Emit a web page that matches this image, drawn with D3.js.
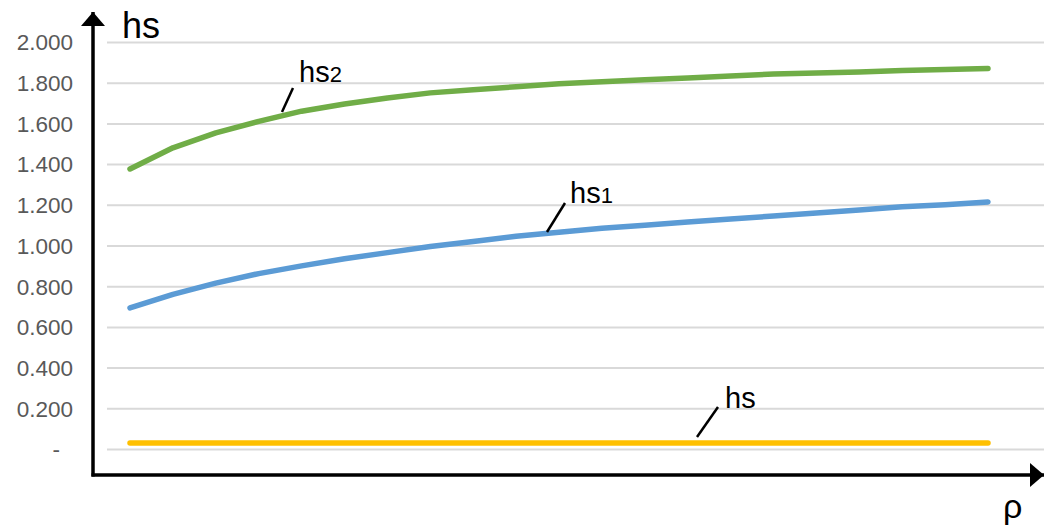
<!DOCTYPE html>
<html>
<head>
<meta charset="utf-8">
<script src="https://cdn.jsdelivr.net/npm/d3@7"></script>
<style>
  html, body { margin: 0; padding: 0; background: #fff; }
  svg { display: block; font-family: "Liberation Sans", "DejaVu Sans", sans-serif; }
</style>
</head>
<body>
<svg id="chart" width="1044" height="527"></svg>
<script>
// data
const yTicks = [0, 0.2, 0.4, 0.6, 0.8, 1.0, 1.2, 1.4, 1.6, 1.8, 2.0];
const hs2Values = [1.376, 1.48, 1.553, 1.61, 1.66, 1.695, 1.725, 1.75, 1.765, 1.78, 1.795,
  1.805, 1.815, 1.823, 1.833, 1.843, 1.848, 1.853, 1.86, 1.865, 1.87];
const hs1Values = [0.693, 0.76, 0.815, 0.862, 0.9, 0.935, 0.965, 0.995, 1.02, 1.045, 1.065,
  1.085, 1.10, 1.115, 1.13, 1.145, 1.16, 1.175, 1.19, 1.2, 1.214];
const hsValues = [0.03, 0.03, 0.03, 0.03, 0.03, 0.03, 0.03, 0.03, 0.03, 0.03, 0.03,
  0.03, 0.03, 0.03, 0.03, 0.03, 0.03, 0.03, 0.03, 0.03, 0.03];
const seriesNames = ["hs", "hs1", "hs2"];
const seriesColors = ["#ffc000", "#5b9bd5", "#70ad47"];

const svg = d3.select("#chart");

// スケール
const x = d3.scaleLinear().domain([0, hs2Values.length - 1]).range([130, 988]);
const y = d3.scaleLinear().domain([0, 2]).range([449, 42]);

// 罫線と目盛りラベル
const yAxis = svg.append("g")
  .attr("class", "y-axis")
  .attr("transform", "translate(107,0)")
  .call(d3.axisLeft(y)
    .tickValues(yTicks)
    .tickSize(-(1044 - 107))
    .tickPadding(34)
    .tickFormat(d => d === 0 ? "-" : d3.format(".3f")(d)));

yAxis.select(".domain").remove();
yAxis.selectAll(".tick line")
  .attr("stroke", "#d9d9d9")
  .attr("stroke-width", 2);
yAxis.selectAll(".tick text")
  .attr("fill", "#595959")
  .attr("font-size", 22.5)
  .attr("font-family", "'Liberation Sans', sans-serif")
  .attr("dy", "0.35em");
yAxis.selectAll(".tick text")
  .filter(d => d === 0)
  .attr("x", -47);

// 系列を描く
const line = d3.line()
  .x((d, i) => x(i))
  .y(d => y(d))
  .curve(d3.curveLinear);

[hsValues, hs1Values, hs2Values].forEach((vals, k) => {
  svg.append("path")
    .datum(vals)
    .attr("d", line)
    .attr("fill", "none")
    .attr("stroke", seriesColors[k])
    .attr("stroke-width", 5.5)
    .attr("stroke-linecap", "round")
    .attr("stroke-linejoin", "round");
});

// 軸の矢印
svg.append("defs").append("marker")
  .attr("id", "arrow")
  .attr("viewBox", "0 0 10 10")
  .attr("refX", 10)
  .attr("refY", 5)
  .attr("markerUnits", "userSpaceOnUse")
  .attr("markerWidth", 14)
  .attr("markerHeight", 24)
  .attr("orient", "auto")
  .attr("preserveAspectRatio", "none")
  .append("path")
  .attr("d", "M0,0 L10,5 L0,10 Z")
  .attr("fill", "#000");

svg.append("line")
  .attr("x1", 93).attr("y1", 476.5)
  .attr("x2", 93).attr("y2", 12)
  .attr("stroke", "#000").attr("stroke-width", 3.5)
  .attr("marker-end", "url(#arrow)");
svg.append("line")
  .attr("x1", 91.5).attr("y1", 475)
  .attr("x2", 1044).attr("y2", 475)
  .attr("stroke", "#000").attr("stroke-width", 3.5)
  .attr("marker-end", "url(#arrow)");

// 軸タイトル
svg.append("text")
  .attr("x", 122).attr("y", 38)
  .attr("font-size", 36)
  .attr("fill", "#000")
  .text("hs");
svg.append("text")
  .attr("x", 1003).attr("y", 518)
  .attr("font-size", 34)
  .attr("fill", "#000")
  .text("ρ");

// 系列のラベル
const labels = [
  {name: "hs", sub: "", tx: 725, ty: 408, lx1: 697, ly1: 437, lx2: 718, ly2: 407},
  {name: "hs", sub: "1", tx: 570, ty: 203, lx1: 547, ly1: 232, lx2: 565, ly2: 203},
  {name: "hs", sub: "2", tx: 299, ty: 82, lx1: 282, ly1: 112, lx2: 293, ly2: 88}
];
labels.forEach(l => {
  svg.append("line")
    .attr("x1", l.lx1).attr("y1", l.ly1)
    .attr("x2", l.lx2).attr("y2", l.ly2)
    .attr("stroke", "#000").attr("stroke-width", 2.5);
  const t = svg.append("text")
    .attr("x", l.tx).attr("y", l.ty)
    .attr("font-size", 29)
    .attr("fill", "#000")
    .text(l.name);
  if (l.sub) {
    t.append("tspan").attr("font-size", 22).text(l.sub);
  }
});
</script>
</body>
</html>
